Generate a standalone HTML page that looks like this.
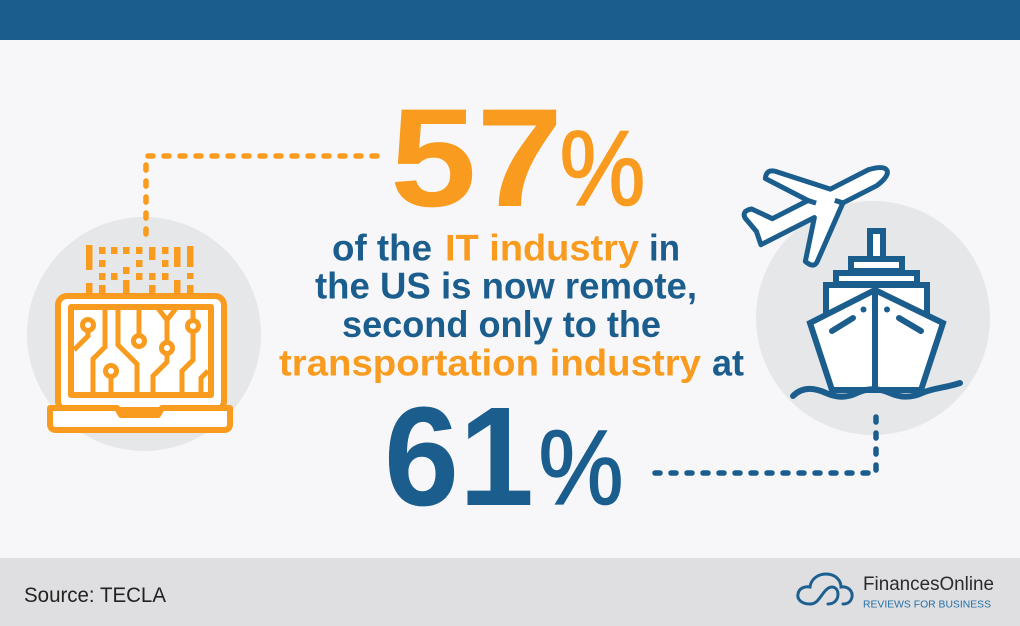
<!DOCTYPE html>
<html>
<head>
<meta charset="utf-8">
<style>
  html,body{margin:0;padding:0;background:#f7f7f9;}
  body{width:1020px;height:626px;overflow:hidden;}
  svg{display:block;}
  text{font-family:"Liberation Sans", sans-serif;}
</style>
</head>
<body>
<svg width="1020" height="626" viewBox="0 0 1020 626" xmlns="http://www.w3.org/2000/svg">
  <!-- background -->
  <rect x="0" y="0" width="1020" height="626" fill="#f7f7f9"/>
  <rect x="0" y="0" width="1020" height="40" fill="#1b5e8e"/>
  <rect x="0" y="558" width="1020" height="68" fill="#dfdfe1"/>

  <!-- circles -->
  <circle cx="144" cy="334" r="117" fill="#e6e7e9"/>
  <circle cx="873" cy="318" r="117" fill="#e6e7e9"/>

  <!-- dotted connectors -->
  <path d="M377,156 L146,156 L146,237" fill="none" stroke="#f89b1f" stroke-width="5.5" stroke-linecap="round" stroke-dasharray="5 11"/>
  <path d="M876,417 L876,473 L649,473" fill="none" stroke="#1b5e8e" stroke-width="5.5" stroke-linecap="round" stroke-dasharray="5 11"/>

  <!-- laptop icon -->
  <g fill="#f89b1f">
    <rect x="86" y="245" width="6.5" height="25"/>
    <rect x="86" y="283" width="6.5" height="10"/>
    <rect x="99" y="247" width="6.5" height="7"/>
    <rect x="99" y="260" width="6.5" height="7"/>
    <rect x="99" y="273" width="6.5" height="7"/>
    <rect x="99" y="285" width="6.5" height="8"/>
    <rect x="111" y="247" width="6.5" height="7"/>
    <rect x="111" y="273" width="6.5" height="7"/>
    <rect x="123" y="247" width="6.5" height="7"/>
    <rect x="123" y="267" width="6.5" height="7"/>
    <rect x="123" y="280" width="6.5" height="13"/>
    <rect x="136" y="247" width="6.5" height="7"/>
    <rect x="136" y="260" width="6.5" height="7"/>
    <rect x="136" y="273" width="6.5" height="7"/>
    <rect x="149" y="247" width="6.5" height="13"/>
    <rect x="149" y="273" width="6.5" height="7"/>
    <rect x="149" y="285" width="6.5" height="8"/>
    <rect x="162" y="247" width="6.5" height="7"/>
    <rect x="162" y="260" width="6.5" height="7"/>
    <rect x="162" y="273" width="6.5" height="7"/>
    <rect x="174" y="247" width="6.5" height="20"/>
    <rect x="174" y="280" width="6.5" height="13"/>
    <rect x="187" y="246" width="6.5" height="21"/>
    <rect x="187" y="273" width="6.5" height="6"/>
    <rect x="187" y="285" width="6.5" height="8"/>
  </g>
  <g fill="none" stroke="#f89b1f" stroke-width="6" stroke-linejoin="round">
    <rect x="58" y="296" width="166" height="114" rx="9" fill="#ffffff"/>
    <rect x="71" y="307" width="140" height="88" fill="#ffffff"/>
    <path d="M50,408 L117,408 L121,415 L158,415 L162,408 L230,408 L230,424 Q230,430 224,430 L56,430 Q50,430 50,424 Z" fill="#ffffff"/>
  </g>
  <g fill="none" stroke="#f89b1f" stroke-width="5" stroke-linejoin="miter">
    <path d="M74,350 L88,336 L88,331"/>
    <path d="M105,307 L105,347 L93,359 L93,395"/>
    <path d="M111,377 L111,395"/>
    <path d="M118,307 L118,345 L137,364 L137,395"/>
    <path d="M139,307 L139,335"/>
    <path d="M157,307 L167,320 L177,307 M167,320 L167,342"/>
    <path d="M167,354 L167,362 L153,376 L153,395"/>
    <path d="M193,307 L193,320 M193,332 L193,360 L182,371 L182,395"/>
    <path d="M201,395 L201,378 L208,371"/>
    <circle cx="88" cy="325" r="5.5" fill="#ffffff"/>
    <circle cx="111" cy="371" r="5.5" fill="#ffffff"/>
    <circle cx="139" cy="341" r="5.5" fill="#ffffff"/>
    <circle cx="167" cy="348" r="5.5" fill="#ffffff"/>
    <circle cx="193" cy="326" r="5.5" fill="#ffffff"/>
  </g>

  <!-- plane -->
  <g transform="translate(821,204) rotate(-27)" fill="#ffffff" stroke="#1b5e8e" stroke-width="5" stroke-linejoin="round">
    <path d="M58,-9 L15,-9 L-26,-50 Q-33,-56 -38,-48 L-10,-9 L-50,-9 L-64,-27 Q-74,-30 -74,-22 L-70,-5 L-72,9 L-12,9 L-40,44 Q-36,54 -30,50 L20,9 L58,9 Q74,6 74,0 Q74,-6 58,-9 Z"/>
    <path d="M-10,-9 L-4,-3" fill="none"/>
    <path d="M20,9 L14,3" fill="none"/>
  </g>

  <!-- ship -->
  <g fill="#ffffff" stroke="#1b5e8e" stroke-width="6" stroke-linejoin="miter">
    <rect x="870" y="231" width="13" height="30"/>
    <rect x="851" y="259" width="51" height="12"/>
    <rect x="836" y="273" width="81" height="11"/>
    <rect x="826" y="285" width="101" height="32"/>
    <path d="M810,323 L875,290 L943,323 L921,390 L832,390 Z"/>
    <path d="M875,290 L875,392" fill="none"/>
    <path d="M832,331 L853,318 M899,318 L921,331" fill="none" stroke-linecap="round"/>
    <path d="M793,396 C803,386 815,388 826,393 C837,398 847,398 857,393 C867,388 879,388 890,393 C901,398 911,398 922,393 C933,388 945,388 960,383" fill="none" stroke-linecap="round"/>
  </g>
  <circle cx="863.5" cy="309.5" r="3" fill="#1b5e8e"/>
  <circle cx="887" cy="309.5" r="3" fill="#1b5e8e"/>

  <!-- big numbers -->
  <text x="390" y="206" font-size="140" font-weight="bold" fill="#f89b1f" textLength="173" lengthAdjust="spacingAndGlyphs">57</text>
  <text x="559.5" y="205" font-size="107" fill="#f89b1f" stroke="#f89b1f" stroke-width="1.6" textLength="86" lengthAdjust="spacingAndGlyphs">%</text>

  <text x="384" y="505" font-size="141" font-weight="bold" fill="#1b5e8e" textLength="150" lengthAdjust="spacingAndGlyphs">61</text>
  <text x="538.5" y="504" font-size="106" fill="#1b5e8e" stroke="#1b5e8e" stroke-width="1.6" textLength="85" lengthAdjust="spacingAndGlyphs">%</text>

  <!-- body text -->
  <g font-size="37" font-weight="bold">
    <text x="332" y="260.5" fill="#1b5e8e" textLength="100" lengthAdjust="spacingAndGlyphs">of the</text>
    <text x="445" y="260.5" fill="#f89b1f" textLength="194" lengthAdjust="spacingAndGlyphs">IT industry</text>
    <text x="649" y="260.5" fill="#1b5e8e" textLength="31" lengthAdjust="spacingAndGlyphs">in</text>
    <text x="315" y="298.5" fill="#1b5e8e" textLength="382" lengthAdjust="spacingAndGlyphs">the US is now remote,</text>
    <text x="342" y="337" fill="#1b5e8e" textLength="319" lengthAdjust="spacingAndGlyphs">second only to the</text>
    <text x="279" y="375.5" fill="#f89b1f" textLength="422" lengthAdjust="spacingAndGlyphs">transportation industry</text>
    <text x="712" y="375.5" fill="#1b5e8e" textLength="32" lengthAdjust="spacingAndGlyphs">at</text>
  </g>

  <!-- footer -->
  <text x="24" y="602" font-size="21" fill="#222222" textLength="142" lengthAdjust="spacingAndGlyphs">Source: TECLA</text>

  <!-- logo -->
  <g fill="none" stroke="#1d5f8f" stroke-width="3" stroke-linecap="round">
    <path d="M810,604 C800,604 797,598 798,594 C799,588 805,586 810,587 C811,579 818,574 826,574 C835,574 841,580 841,587 C848,586 853,591 852,597 C851,602 847,604 843,604"/>
    <path d="M810,604 C818,604 820,596 826,590 C832,584 838,588 838,594 C838,600 834,604 828,604"/>
  </g>
  <text x="863" y="590" font-size="19.5" fill="#2a2a2a" textLength="131" lengthAdjust="spacingAndGlyphs">FinancesOnline</text>
  <text x="863" y="607.5" font-size="10" fill="#2270a8" textLength="128" lengthAdjust="spacingAndGlyphs">REVIEWS FOR BUSINESS</text>
</svg>
</body>
</html>
